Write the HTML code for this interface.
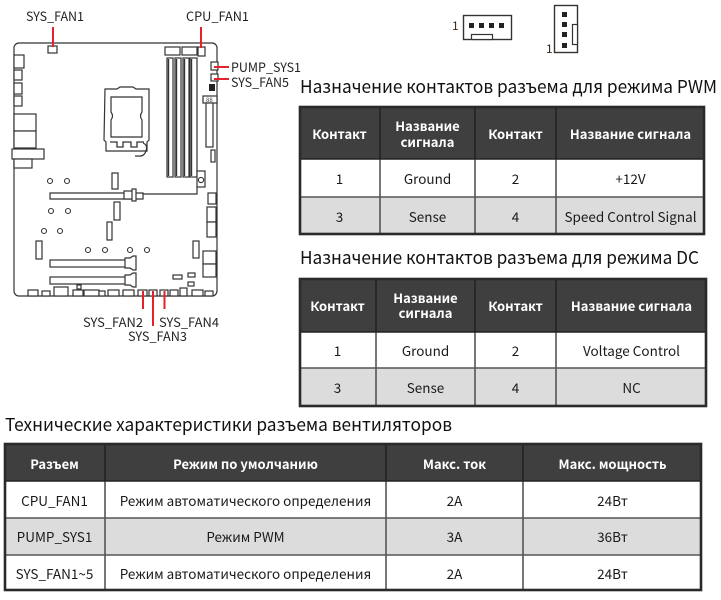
<!DOCTYPE html>
<html><head><meta charset="utf-8">
<style>
html,body{margin:0;padding:0;background:#fff;}
svg{display:block;}
text{font-family:"Noto Sans CJK JP","Liberation Sans",sans-serif;}
.lb{font-size:12.5px;fill:#222;}
.ti{font-size:18px;fill:#111;}
.th{font-size:13px;font-weight:bold;fill:#fff;}
.td{font-size:13.5px;fill:#1a1a1a;}
.b{fill:#fff;stroke:#333;stroke-width:1.2;}
.r{stroke:#e3222b;stroke-width:2;fill:none;}
</style></head>
<body>
<svg width="721" height="600" viewBox="0 0 721 600" xmlns="http://www.w3.org/2000/svg">
<rect width="721" height="600" fill="#fff"/>

<!-- ===== Motherboard ===== -->
<rect x="14" y="43" width="203" height="253" rx="5" class="b" stroke-width="1.6"/>
<!-- top connectors -->
<rect x="48" y="46" width="9" height="7" class="b"/>
<rect x="165" y="47" width="15" height="8" class="b"/>
<rect x="182" y="47" width="15" height="8" class="b"/>
<rect x="198" y="47" width="7" height="9" class="b"/>
<!-- DIMMs -->
<g>
<rect x="167" y="58" width="6" height="119" class="b"/><line x1="168.5" y1="59" x2="168.5" y2="176" stroke="#333" stroke-width="1.4"/>
<rect x="175" y="58" width="6" height="119" class="b"/><line x1="176.5" y1="59" x2="176.5" y2="176" stroke="#333" stroke-width="1.4"/>
<rect x="183" y="58" width="6" height="119" class="b"/><line x1="184.5" y1="59" x2="184.5" y2="176" stroke="#333" stroke-width="1.4"/>
<rect x="190" y="58" width="7" height="119" class="b"/><line x1="191.5" y1="59" x2="191.5" y2="176" stroke="#333" stroke-width="1.4"/>
</g>
<!-- right side top -->
<rect x="211" y="62" width="7" height="8" class="b"/>
<rect x="211" y="74" width="7" height="7" class="b"/>
<rect x="209" y="84" width="6" height="7" fill="#222"/>
<rect x="203" y="96" width="14" height="7" class="b"/>
<text x="206" y="102" font-size="6" fill="#444">88</text>
<rect x="206" y="103" width="7" height="44" class="b"/>
<rect x="211" y="150" width="4" height="12" class="b"/>
<!-- CPU socket -->
<path d="M105 89 L117 89 L120 87 L133 87 L136 89 L149 89 L149 140 L147 142 L147 151 L106 151 L106 142 L104 140 Z" class="b" stroke-width="1.8"/>
<path d="M111 97 L142 97 L142 112 Q139 116 142 120 L142 137 L111 137 L111 120 Q114 116 111 112 Z" class="b" stroke-width="1.6"/>
<path d="M110 142 h7 v5 h6 v-5 h8 v5 h6 v-5 h7" fill="none" stroke="#333" stroke-width="1.3"/>
<path d="M143 143 q5 2 3 8 q-2 6 -8 5 l-3 0" fill="none" stroke="#333" stroke-width="1.2"/>
<!-- left I/O -->
<rect x="14" y="55" width="10" height="13" class="b"/>
<rect x="14" y="70" width="8" height="10" class="b"/>
<rect x="14" y="83" width="8" height="11" class="b"/>
<rect x="14" y="96" width="8" height="10" class="b"/>
<rect x="14" y="114" width="22" height="17" class="b"/>
<rect x="14" y="131" width="22" height="17" class="b"/>
<rect x="12" y="149" width="32" height="10" class="b"/>
<rect x="14" y="159" width="18" height="9" class="b"/>
<!-- circles -->
<g fill="#fff" stroke="#333" stroke-width="1.1">
<circle cx="50" cy="181" r="2.5"/><circle cx="67" cy="181" r="2.5"/>
<circle cx="51" cy="211" r="2.5"/><circle cx="68" cy="211" r="2.5"/>
<circle cx="44" cy="231" r="2.5"/><circle cx="60" cy="231" r="2.5"/>
<circle cx="88" cy="250" r="2.5"/><circle cx="105" cy="250" r="2.5"/>
<circle cx="130" cy="250" r="2.5"/><circle cx="147" cy="250" r="2.5"/>
</g>
<!-- small vertical slots -->
<rect x="112" y="173" width="6" height="16" class="b"/>
<rect x="114" y="202" width="6" height="18" class="b"/>
<rect x="107" y="222" width="5" height="18" class="b"/>
<rect x="36" y="241" width="6" height="18" class="b"/>
<rect x="193" y="241" width="6" height="17" class="b"/>
<!-- right side lower -->
<rect x="197" y="171" width="8" height="16" class="b"/><circle cx="201" cy="180" r="2.6" fill="#fff" stroke="#333" stroke-width="1.1"/>
<rect x="208" y="193" width="8" height="11" class="b"/>
<rect x="207" y="207" width="9" height="15" class="b"/>
<rect x="207" y="222" width="9" height="15" class="b"/>
<rect x="203" y="251" width="13" height="13" class="b"/>
<rect x="203" y="264" width="13" height="13" class="b"/>
<!-- PCIe slots -->
<path d="M50 193 H143 V199 H50 Z" class="b"/>
<path d="M143 194 H197 V187" fill="none" stroke="#333" stroke-width="1.2"/>
<rect x="124" y="191" width="10" height="8" class="b"/><rect x="132" y="189" width="4" height="12" class="b"/>
<rect x="50" y="260" width="78" height="7" class="b"/>
<path d="M125 258 h5 l3 -2 h3 v14 h-3 l-3 -2 h-5 z" class="b"/>
<rect x="50" y="277" width="78" height="7" class="b"/>
<path d="M125 275 h5 l3 -2 h3 v14 h-3 l-3 -2 h-5 z" class="b"/>
<rect x="173" y="275" width="9" height="4" class="b"/>
<rect x="188" y="273" width="7" height="4" class="b"/>
<rect x="188" y="282" width="6" height="4" class="b"/>
<!-- bottom connectors -->
<g>
<rect x="28" y="290" width="10" height="6" class="b"/>
<rect x="42" y="291" width="8" height="5" class="b"/>
<rect x="54" y="287" width="14" height="9" class="b"/>
<rect x="77" y="285" width="4" height="4" class="b"/>
<rect x="73" y="290" width="10" height="6" class="b"/>
<rect x="84" y="290" width="15" height="6" class="b"/>
<rect x="99" y="291" width="6" height="5" class="b"/>
<rect x="108" y="290" width="11" height="6" class="b"/>
<rect x="123" y="290" width="11" height="6" class="b"/>
<rect x="138" y="290" width="9" height="6" class="b"/>
<rect x="149" y="290" width="8" height="6" class="b"/>
<rect x="160" y="290" width="8" height="6" class="b"/>
<rect x="170" y="290" width="8" height="6" class="b"/>
<rect x="180" y="288" width="7" height="8" class="b"/>
<rect x="192" y="290" width="11" height="6" class="b"/>
<rect x="205" y="291" width="8" height="5" class="b"/>
</g>
<!-- red leader lines -->
<line x1="53" y1="27" x2="53" y2="47" class="r"/>
<line x1="201" y1="27" x2="201" y2="48" class="r"/>
<line x1="214" y1="67" x2="229" y2="67" class="r"/>
<line x1="214" y1="79" x2="229" y2="79" class="r"/>
<line x1="143" y1="291" x2="143" y2="309" class="r"/>
<line x1="153" y1="291" x2="153" y2="326" class="r"/>
<line x1="164.5" y1="291" x2="164.5" y2="309" class="r"/>
<!-- labels -->
<text class="lb" x="26" y="21" textLength="58" lengthAdjust="spacingAndGlyphs">SYS_FAN1</text>
<text class="lb" x="186" y="21" textLength="63" lengthAdjust="spacingAndGlyphs">CPU_FAN1</text>
<text class="lb" x="231" y="72" textLength="70" lengthAdjust="spacingAndGlyphs">PUMP_SYS1</text>
<text class="lb" x="231" y="87" textLength="58" lengthAdjust="spacingAndGlyphs">SYS_FAN5</text>
<text class="lb" x="83" y="327" textLength="60" lengthAdjust="spacingAndGlyphs">SYS_FAN2</text>
<text class="lb" x="159" y="327" textLength="60" lengthAdjust="spacingAndGlyphs">SYS_FAN4</text>
<text class="lb" x="128" y="341" textLength="59" lengthAdjust="spacingAndGlyphs">SYS_FAN3</text>

<!-- ===== connector icons ===== -->
<text x="452" y="30" font-size="12" fill="#3a2a1a">1</text>
<rect x="463.5" y="15.5" width="48" height="24" fill="#fff" stroke="#333" stroke-width="1.4"/>
<rect x="469" y="23" width="5" height="5" fill="#222"/>
<rect x="479" y="23" width="5" height="5" fill="#222"/>
<rect x="489" y="23" width="5" height="5" fill="#222"/>
<rect x="499" y="23" width="5" height="5" fill="#222"/>
<rect x="471.5" y="34.5" width="21" height="5" fill="#fff" stroke="#333" stroke-width="1.2"/>
<text x="546" y="53" font-size="12" fill="#3a2a1a">1</text>
<rect x="554.5" y="5.5" width="23" height="47" fill="#fff" stroke="#333" stroke-width="1.4"/>
<rect x="562" y="12" width="5" height="5" fill="#222"/>
<rect x="562" y="22" width="5" height="5" fill="#222"/>
<rect x="562" y="32" width="5" height="5" fill="#222"/>
<rect x="562" y="43" width="5" height="5" fill="#222"/>
<rect x="572.5" y="24.5" width="5" height="20" fill="#fff" stroke="#333" stroke-width="1.2"/>

<!-- ===== Titles ===== -->
<text class="ti" x="300" y="93" textLength="417" lengthAdjust="spacingAndGlyphs">Назначение контактов разъема для режима PWM</text>
<text class="ti" x="300" y="264" textLength="399" lengthAdjust="spacingAndGlyphs">Назначение контактов разъема для режима DC</text>
<text class="ti" x="5" y="431" textLength="447" lengthAdjust="spacingAndGlyphs">Технические характеристики разъема вентиляторов</text>

<!-- ===== Table 1 (PWM) ===== -->
<rect x="299" y="106" width="406" height="53" fill="#3f3f3f"/>
<rect x="299" y="197" width="406" height="38" fill="#dcdcdc"/>
<g stroke="#222" stroke-width="1.6">
<line x1="380" y1="106" x2="380" y2="159"/><line x1="475" y1="106" x2="475" y2="159"/><line x1="556" y1="106" x2="556" y2="159"/>
</g>
<g stroke="#555" stroke-width="1.6">
<line x1="380" y1="159" x2="380" y2="235"/><line x1="475" y1="159" x2="475" y2="235"/><line x1="556" y1="159" x2="556" y2="235"/>
<line x1="299" y1="197" x2="705" y2="197"/>
</g>
<line x1="299" y1="159" x2="705" y2="159" stroke="#222" stroke-width="1.6"/>
<rect x="300" y="107" width="404" height="127" fill="none" stroke="#2a2a2a" stroke-width="2.6"/>
<text class="th" x="339.5" y="139" text-anchor="middle">Контакт</text>
<text class="th" x="427.5" y="131" text-anchor="middle">Название</text>
<text class="th" x="427.5" y="147" text-anchor="middle">сигнала</text>
<text class="th" x="515.5" y="139" text-anchor="middle">Контакт</text>
<text class="th" x="630.5" y="139" text-anchor="middle">Название сигнала</text>
<text class="td" x="339.5" y="184" text-anchor="middle">1</text>
<text class="td" x="427.5" y="184" text-anchor="middle">Ground</text>
<text class="td" x="515.5" y="184" text-anchor="middle">2</text>
<text class="td" x="630.5" y="184" text-anchor="middle">+12V</text>
<text class="td" x="339.5" y="222" text-anchor="middle">3</text>
<text class="td" x="427.5" y="222" text-anchor="middle">Sense</text>
<text class="td" x="515.5" y="222" text-anchor="middle">4</text>
<text class="td" x="630.5" y="222" text-anchor="middle">Speed Control Signal</text>

<!-- ===== Table 2 (DC) ===== -->
<rect x="299" y="278" width="408" height="54" fill="#3f3f3f"/>
<rect x="299" y="368" width="408" height="39" fill="#dcdcdc"/>
<g stroke="#222" stroke-width="1.6">
<line x1="376" y1="278" x2="376" y2="332"/><line x1="475" y1="278" x2="475" y2="332"/><line x1="556" y1="278" x2="556" y2="332"/>
</g>
<g stroke="#555" stroke-width="1.6">
<line x1="376" y1="332" x2="376" y2="407"/><line x1="475" y1="332" x2="475" y2="407"/><line x1="556" y1="332" x2="556" y2="407"/>
<line x1="299" y1="368" x2="707" y2="368"/>
</g>
<line x1="299" y1="332" x2="707" y2="332" stroke="#222" stroke-width="1.6"/>
<rect x="300" y="279" width="406" height="127" fill="none" stroke="#2a2a2a" stroke-width="2.6"/>
<text class="th" x="337.5" y="311" text-anchor="middle">Контакт</text>
<text class="th" x="425.5" y="303" text-anchor="middle">Название</text>
<text class="th" x="425.5" y="318" text-anchor="middle">сигнала</text>
<text class="th" x="515.5" y="311" text-anchor="middle">Контакт</text>
<text class="th" x="631.5" y="311" text-anchor="middle">Название сигнала</text>
<text class="td" x="337.5" y="356" text-anchor="middle">1</text>
<text class="td" x="425.5" y="356" text-anchor="middle">Ground</text>
<text class="td" x="515.5" y="356" text-anchor="middle">2</text>
<text class="td" x="631.5" y="356" text-anchor="middle">Voltage Control</text>
<text class="td" x="337.5" y="393" text-anchor="middle">3</text>
<text class="td" x="425.5" y="393" text-anchor="middle">Sense</text>
<text class="td" x="515.5" y="393" text-anchor="middle">4</text>
<text class="td" x="631.5" y="393" text-anchor="middle">NC</text>

<!-- ===== Table 3 ===== -->
<rect x="4" y="443" width="698" height="38" fill="#3f3f3f"/>
<rect x="4" y="518" width="698" height="37" fill="#dcdcdc"/>
<g stroke="#222" stroke-width="1.6">
<line x1="105" y1="443" x2="105" y2="481"/><line x1="386" y1="443" x2="386" y2="481"/><line x1="523" y1="443" x2="523" y2="481"/>
</g>
<g stroke="#555" stroke-width="1.6">
<line x1="105" y1="481" x2="105" y2="591"/><line x1="386" y1="481" x2="386" y2="591"/><line x1="523" y1="481" x2="523" y2="591"/>
<line x1="4" y1="518" x2="702" y2="518"/><line x1="4" y1="555" x2="702" y2="555"/>
</g>
<line x1="4" y1="481" x2="702" y2="481" stroke="#222" stroke-width="1.6"/>
<rect x="5" y="444" width="696" height="146" fill="none" stroke="#2a2a2a" stroke-width="2.6"/>
<text class="th" x="54.5" y="469" text-anchor="middle">Разъем</text>
<text class="th" x="245.5" y="469" text-anchor="middle">Режим по умолчанию</text>
<text class="th" x="454.5" y="469" text-anchor="middle">Макс. ток</text>
<text class="th" x="612.5" y="469" text-anchor="middle">Макс. мощность</text>
<text class="td" x="54.5" y="506" text-anchor="middle">CPU_FAN1</text>
<text class="td" x="245.5" y="506" text-anchor="middle">Режим автоматического определения</text>
<text class="td" x="454.5" y="506" text-anchor="middle">2A</text>
<text class="td" x="612.5" y="506" text-anchor="middle">24Вт</text>
<text class="td" x="54.5" y="542" text-anchor="middle">PUMP_SYS1</text>
<text class="td" x="245.5" y="542" text-anchor="middle">Режим PWM</text>
<text class="td" x="454.5" y="542" text-anchor="middle">3A</text>
<text class="td" x="612.5" y="542" text-anchor="middle">36Вт</text>
<text class="td" x="54.5" y="579" text-anchor="middle">SYS_FAN1~5</text>
<text class="td" x="245.5" y="579" text-anchor="middle">Режим автоматического определения</text>
<text class="td" x="454.5" y="579" text-anchor="middle">2A</text>
<text class="td" x="612.5" y="579" text-anchor="middle">24Вт</text>
</svg>
</body></html>
